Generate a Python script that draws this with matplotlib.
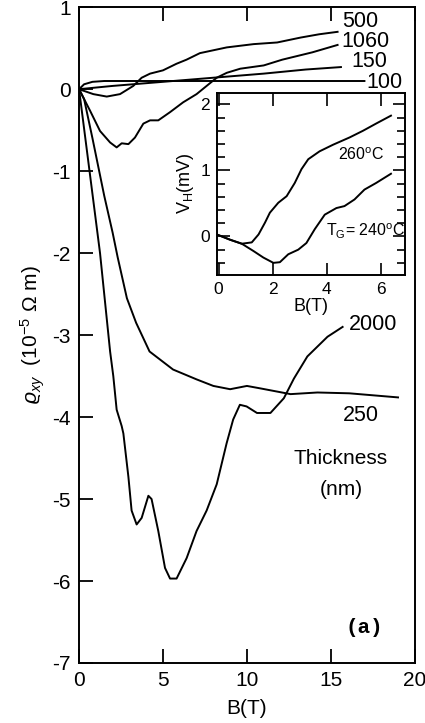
import matplotlib
matplotlib.use("Agg")
import matplotlib.pyplot as plt

plt.rcParams['font.family'] = ['Liberation Sans', 'DejaVu Sans']
plt.rcParams['mathtext.fontset'] = 'custom'
plt.rcParams['mathtext.rm'] = 'Liberation Sans'
plt.rcParams['mathtext.it'] = 'Liberation Sans:italic'
plt.rcParams['axes.unicode_minus'] = False

# main panel: Hall resistivity vs field for several film thicknesses (nm)
b_100 = [0, 0.3, 0.8, 1.5, 3, 6, 10, 14, 17]
rho_100 = [0, 0.06, 0.09, 0.1, 0.1, 0.1, 0.1, 0.1, 0.1]

b_150 = [0, 2, 5, 8, 11, 13.5, 15.6]
rho_150 = [0, 0.04, 0.09, 0.14, 0.19, 0.24, 0.27]

b_500 = [0, 0.85, 1.65, 2.44, 3.23, 3.73, 4.23, 5.0, 5.8, 6.4, 7.2, 8.8, 10.4, 11.8, 13.2, 14.3, 15.4]
rho_500 = [0, -0.06, -0.09, -0.06, 0.04, 0.14, 0.19, 0.23, 0.31, 0.36, 0.44, 0.51, 0.55, 0.57, 0.63, 0.67, 0.7]

b_1060 = [0, 0.65, 1.25, 1.85, 2.24, 2.54, 2.94, 3.33, 3.83, 4.23, 4.72, 5.42, 6.2, 7.0, 7.6, 8.2,
          8.8, 9.6, 11.0, 12.1, 13.9, 15.4]
rho_1060 = [0, -0.26, -0.51, -0.65, -0.71, -0.66, -0.67, -0.59, -0.42, -0.38, -0.38, -0.28, -0.16, -0.06, 0.04, 0.14,
            0.2, 0.25, 0.29, 0.36, 0.45, 0.54]

b_250 = [0, 0.3, 0.8, 1.5, 2.0, 2.3, 2.85, 3.4, 4.2, 5.6, 7.0, 8.0, 9.0, 10.0, 10.8, 12.6, 14.2, 16.1, 19.0]
rho_250 = [0, -0.12, -0.6, -1.3, -1.75, -2.05, -2.55, -2.85, -3.2, -3.42, -3.54, -3.62, -3.66, -3.62, -3.65,
           -3.72, -3.7, -3.71, -3.76]

b_2000 = [0, 0.5, 1.25, 1.85, 2.04, 2.24, 2.54, 2.64, 2.94, 3.13, 3.43, 3.73, 4.13, 4.32, 4.72, 5.12, 5.42,
          5.81, 6.41, 7.0, 7.6, 8.2, 8.79, 9.18, 9.58, 9.98, 10.6, 11.4, 12.2, 12.8, 13.6, 14.8, 15.7]
rho_2000 = [0, -0.8, -2.0, -3.2, -3.5, -3.91, -4.11, -4.2, -4.73, -5.14, -5.31, -5.23, -4.96, -5.0, -5.39, -5.84, -5.97,
            -5.97, -5.72, -5.39, -5.14, -4.82, -4.32, -4.03, -3.85, -3.87, -3.95, -3.95, -3.77, -3.53, -3.26, -3.02, -2.9]

# inset: Hall voltage for two growth temperatures
b_in_260 = [0, 0.43, 0.86, 1.23, 1.48, 1.72, 1.9, 2.21, 2.52, 2.82, 3.07, 3.32, 3.74, 4.24, 4.85, 5.34, 5.83, 6.38]
vh_260 = [0.02, -0.05, -0.11, -0.09, 0.03, 0.21, 0.36, 0.51, 0.61, 0.81, 1.02, 1.17, 1.29, 1.39, 1.5, 1.6, 1.71, 1.83]

b_in_240 = [0, 0.43, 0.86, 1.29, 1.66, 2.03, 2.27, 2.58, 2.95, 3.25, 3.56, 3.93, 4.36, 4.66, 5.03, 5.4, 5.83, 6.38]
vh_240 = [0.02, -0.05, -0.11, -0.22, -0.32, -0.4, -0.39, -0.27, -0.2, -0.1, 0.11, 0.33, 0.43, 0.46, 0.56, 0.71, 0.81, 0.95]

fig = plt.figure(figsize=(4.25, 7.23), dpi=100)
ax = fig.add_axes([0.186, 0.083, 0.79, 0.907])

lw = 1.4
for b, r in [(b_100, rho_100), (b_150, rho_150), (b_500, rho_500),
             (b_1060, rho_1060), (b_250, rho_250), (b_2000, rho_2000)]:
    ax.plot(b, r, color='black', lw=lw)

ax.set_xlim(0, 20)
ax.set_ylim(-7, 1)
ax.set_xticks([0, 5, 10, 15, 20])
ax.set_yticks(range(-7, 2))
ax.tick_params(direction='in', length=10, width=1.3, top=True, labelsize=15, pad=6)
for s in ax.spines.values():
    s.set_linewidth(1.4)
ax.set_xlabel('B(T)', fontsize=15, labelpad=6)
ax.set_ylabel(r'$\varrho_{xy}$  (10$^{-5}$ Ω m)', fontsize=15, labelpad=4)

fs = 15.5
ax.text(15.7, 0.82, '500', fontsize=fs, va='center')
ax.text(15.6, 0.58, '1060', fontsize=fs, va='center')
ax.text(16.2, 0.34, '150', fontsize=fs, va='center')
ax.text(17.1, 0.08, '100', fontsize=fs, va='center')
ax.text(16.1, -2.87, '2000', fontsize=fs, va='center')
ax.text(15.7, -3.98, '250', fontsize=fs, va='center')
ax.text(15.6, -4.5, 'Thickness', fontsize=15, ha='center', va='center')
ax.text(15.6, -4.88, '(nm)', fontsize=15, ha='center', va='center')
ax.text(17.0, -6.57, '(a)', fontsize=15, ha='center', va='center',
        family='Liberation Mono', weight='bold')

ins = fig.add_axes([0.511, 0.620, 0.442, 0.252])
ins.plot(b_in_260, vh_260, color='black', lw=lw)
ins.plot(b_in_240, vh_240, color='black', lw=lw)
ins.set_xlim(-0.05, 6.9)
ins.set_ylim(-0.58, 2.18)
ins.set_xticks([0, 2, 4, 6])
ins.set_yticks([0, 1, 2])
ins.set_yticks([-0.4, -0.2, 0.2, 0.4, 0.6, 0.8, 1.2, 1.4, 1.6, 1.8, 2.0], minor=True)
ins.tick_params(which='major', direction='in', length=9, width=1.2, top=True, right=True, labelsize=12.5, pad=5)
ins.tick_params(which='minor', direction='in', length=6, width=1.2, right=True)
for s in ins.spines.values():
    s.set_linewidth(1.4)
ins.set_xlabel('B(T)', fontsize=13, labelpad=1)
ins.set_ylabel(r'V$_\mathrm{H}$(mV)', fontsize=13, labelpad=3)
ins.text(5.26, 1.24, '260$^\\mathrm{o}$C', fontsize=11.5, ha='center', va='center')
ins.text(5.45, 0.08, 'T$_\\mathrm{G}$= 240$^\\mathrm{o}$C', fontsize=11.5, ha='center', va='center')

fig.savefig('out.png', dpi=100)
